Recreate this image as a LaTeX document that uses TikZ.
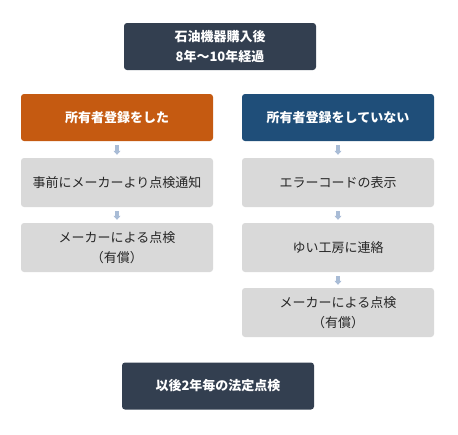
\documentclass[tikz,border=0pt]{standalone}
\usepackage{fontspec}
\setmainfont{Noto Sans CJK JP}
\usetikzlibrary{arrows.meta}
\definecolor{navy}{HTML}{333F50}
\definecolor{rust}{HTML}{C55A11}
\definecolor{steel}{HTML}{1F4E79}
\definecolor{paleg}{HTML}{D9D9D9}
\definecolor{paleb}{HTML}{A9BCD6}
\begin{document}
\begin{tikzpicture}[x=1pt, y=-1pt, every node/.style={font=\fontsize{13}{20}\selectfont},
    % Estilos de nodos
    darkbox/.style={
        fill=navy, rounded corners=3pt, text=white,
        minimum width=192pt, minimum height=47pt,
        font=\fontsize{13}{20}\selectfont\bfseries, align=center
    },
    headbox/.style={
        rounded corners=3pt, text=white,
        minimum width=192pt, minimum height=47pt,
        font=\fontsize{13}{20}\selectfont\bfseries, align=center
    },
    stepbox/.style={
        fill=paleg, rounded corners=3pt, text=black!85,
        minimum width=192pt, minimum height=49pt, align=center
    },
    flow/.style={
        -{Triangle[width=7pt,length=4pt]}, line width=3.5pt, paleb,
        shorten <=4pt, shorten >=3pt
    }
]
\useasboundingbox (0,0) rectangle (458,434);

% =============================================
% INICIO Y FIN
% =============================================

\node[darkbox] (compra) at (220, 46.5) {石油機器購入後\\8年～10年経過};
\node[darkbox] (legal) at (218, 386) {以後2年毎の法定点検};

% =============================================
% RAMA IZQUIERDA (registrado)
% =============================================

\node[headbox, fill=rust] (reg) at (117, 117.5) {所有者登録をした};
\node[stepbox] (aviso) at (117, 182.5) {事前にメーカーより点検通知};
\node[stepbox] (insp1) at (117, 247.5) {メーカーによる点検\\（有償）};

% =============================================
% RAMA DERECHA (no registrado)
% =============================================

\node[headbox, fill=steel] (noreg) at (338, 117.5) {所有者登録をしていない};
\node[stepbox] (error) at (338, 182.5) {エラーコードの表示};
\node[stepbox] (tel) at (338, 247.5) {ゆい工房に連絡};
\node[stepbox] (insp2) at (338, 312.5) {メーカーによる点検\\（有償）};

% =============================================
% FLECHAS
% =============================================

\draw[flow] (reg.south) -- (aviso.north);
\draw[flow] (aviso.south) -- (insp1.north);
\draw[flow] (noreg.south) -- (error.north);
\draw[flow] (error.south) -- (tel.north);
\draw[flow] (tel.south) -- (insp2.north);

\end{tikzpicture}
\end{document}
